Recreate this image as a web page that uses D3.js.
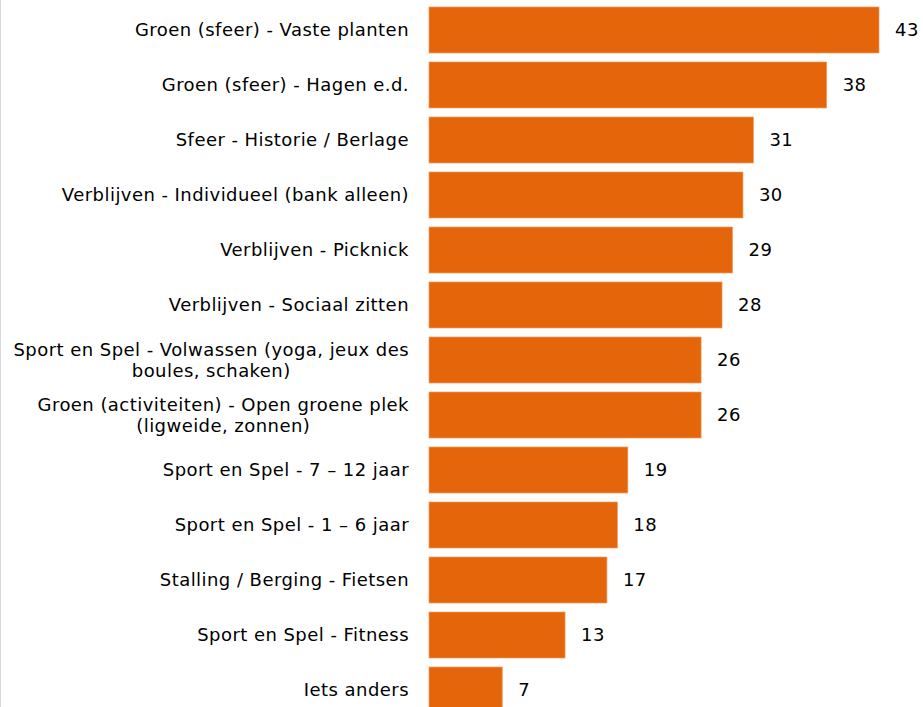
<!DOCTYPE html>
<html>
<head>
<meta charset="utf-8">
<script src="https://cdn.jsdelivr.net/npm/d3@7"></script>
<style>
  html, body { margin: 0; padding: 0; background: #fff; }
  svg { display: block; }
  .label, .value { font-family: "DejaVu Sans", sans-serif; font-size: 18px; letter-spacing: 0.45px; fill: #000; }
</style>
</head>
<body>
<svg id="chart"></svg>
<script>
const categories = [
  'Groen (sfeer) - Vaste planten',
  'Groen (sfeer) - Hagen e.d.',
  'Sfeer - Historie / Berlage',
  'Verblijven - Individueel (bank alleen)',
  'Verblijven - Picknick',
  'Verblijven - Sociaal zitten',
  'Sport en Spel - Volwassen (yoga, jeux des boules, schaken)',
  'Groen (activiteiten) - Open groene plek (ligweide, zonnen)',
  'Sport en Spel - 7 – 12 jaar',
  'Sport en Spel - 1 – 6 jaar',
  'Stalling / Berging - Fietsen',
  'Sport en Spel - Fitness',
  'Iets anders'
];
const values = [43, 38, 31, 30, 29, 28, 26, 26, 19, 18, 17, 13, 7];

const width = 923;
const height = 707;
const barLeft = 429;
const labelRight = 409;
const maxLabelWidth = 405;
const barColor = '#e5650b';

const svg = d3.select('#chart')
  .attr('width', width)
  .attr('height', height);

// left frame line
svg.append('line')
  .attr('x1', 0.5).attr('x2', 0.5)
  .attr('y1', 0).attr('y2', height)
  .attr('stroke', '#d9d9d9');

const x = d3.scaleLinear()
  .domain([0, 43])
  .range([barLeft, 879]);

const y = d3.scaleBand()
  .domain(categories)
  .range([7, 713])
  .paddingInner(0.164)
  .paddingOuter(0);

const rows = svg.append('g')
  .selectAll('g')
  .data(categories)
  .enter()
  .append('g');

rows.append('rect')
  .attr('x', x(0))
  .attr('y', function (d) { return y(d); })
  .attr('width', function (d, i) { return x(values[i]) - x(0); })
  .attr('height', y.bandwidth())
  .attr('fill', barColor)
  .attr('stroke', '#f29a5c')
  .attr('stroke-width', 0.7);

rows.append('text')
  .attr('class', 'value')
  .attr('x', function (d, i) { return x(values[i]) + 16; })
  .attr('y', function (d) { return y(d) + y.bandwidth() / 2; })
  .attr('dy', '0.36em')
  .text(function (d, i) { return values[i]; });

// category labels, wrapped to a centred block that is right-aligned to the bars
rows.each(function (d) {
  const g = d3.select(this);
  const words = d.split(' ');
  const lines = [];
  let line = [];
  const probe = g.append('text').attr('class', 'label');
  words.forEach(function (w) {
    const test = line.concat([w]).join(' ');
    probe.text(test);
    if (line.length && probe.node().getComputedTextLength() > maxLabelWidth) {
      lines.push(line.join(' '));
      line = [w];
    } else {
      line.push(w);
    }
  });
  lines.push(line.join(' '));
  probe.remove();

  const widths = lines.map(function (l) {
    const t = g.append('text').attr('class', 'label').text(l);
    const w = t.node().getComputedTextLength();
    t.remove();
    return w;
  });
  const blockWidth = d3.max(widths);
  const cx = labelRight - blockWidth / 2;
  const lineHeight = 21;
  const cy = y(d) + y.bandwidth() / 2;
  const text = g.append('text')
    .attr('class', 'label')
    .attr('text-anchor', 'middle');
  lines.forEach(function (l, i) {
    text.append('tspan')
      .attr('x', cx)
      .attr('y', cy + (i - (lines.length - 1) / 2) * lineHeight)
      .attr('dy', '0.36em')
      .text(l);
  });
});
</script>
</body>
</html>
